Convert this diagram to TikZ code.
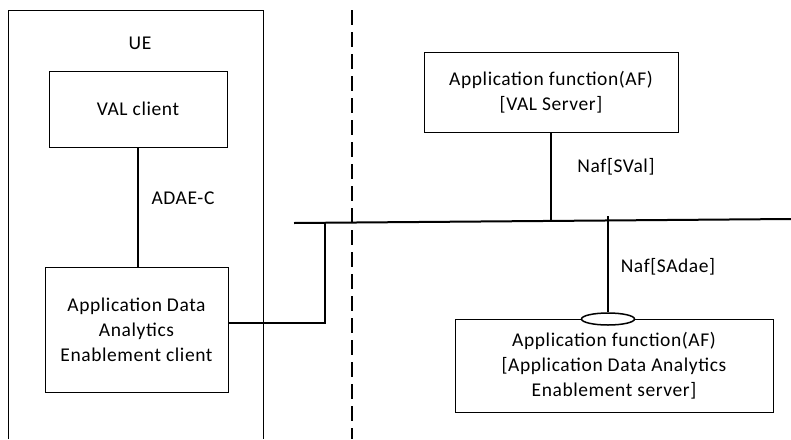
\documentclass[tikz,border=0pt]{standalone}
\usepackage{fontspec}
\setmainfont[LetterSpace=3]{Carlito}
\usetikzlibrary{shapes.geometric}

\begin{document}
\begin{tikzpicture}[x=1pt,y=-1pt,
        every node/.style={font=\fontsize{19.5}{25}\selectfont, align=center, inner sep=0pt},
        box/.style={draw, line width=1pt},
        link/.style={line width=1.5pt}]
        % picture area
        \useasboundingbox (0,0) rectangle (791,439);
        % UE side
        \draw[line width=1pt] (8,439) -- (8,10) -- (263,10) -- (263,439);
        \node(ue) at (140,43) {UE};
        \node[box,minimum width=178,minimum height=76](valc) at (138,109) {VAL client};
        \node[box,minimum width=183,minimum height=125](adaec) at (136.5,329.5)
            {Application Data\\Analytics\\Enablement client};
        \draw[link] (valc.south) -- (valc.south |- adaec.north);
        \node(adaec_c) at (183,198) {ADAE-C};
        % border
        \coordinate(bordtop) at (352,10);
        \coordinate(bordbot) at (352,439);
        \draw[line width=2pt,dash pattern=on 15pt off 7pt] (bordtop) -- (bordbot);
        % network side
        \coordinate(busl) at (294,223);
        \coordinate(busr) at (791,219);
        \draw[line width=2pt] (busl) -- (busr);
        \coordinate(tapue) at (325,222.7);
        \coordinate(tapval) at (551,220.7);
        \coordinate(tapadae) at (608,216);
        \draw[link] (adaec.east |- 0,323) -| (tapue);
        \node[box,minimum width=254,minimum height=80](afval) at (551,92)
            {Application function(AF)\\{[VAL Server]}};
        \draw[link] (afval.south) -- (tapval);
        \node(nafsval) at (616,167) {Naf[SVal]};
        \node[box,minimum width=318,minimum height=93](afadae) at (614,365.5)
            {Application function(AF)\\{[Application Data Analytics}\\Enablement server]};
        \node[draw,ellipse,fill=white,line width=1.5pt,minimum width=53,minimum height=12](svc) at (608,319) {};
        \draw[link] (tapadae) -- (svc.north);
        \node(nafsadae) at (668,267) {Naf[SAdae]};
\end{tikzpicture}
\end{document}
